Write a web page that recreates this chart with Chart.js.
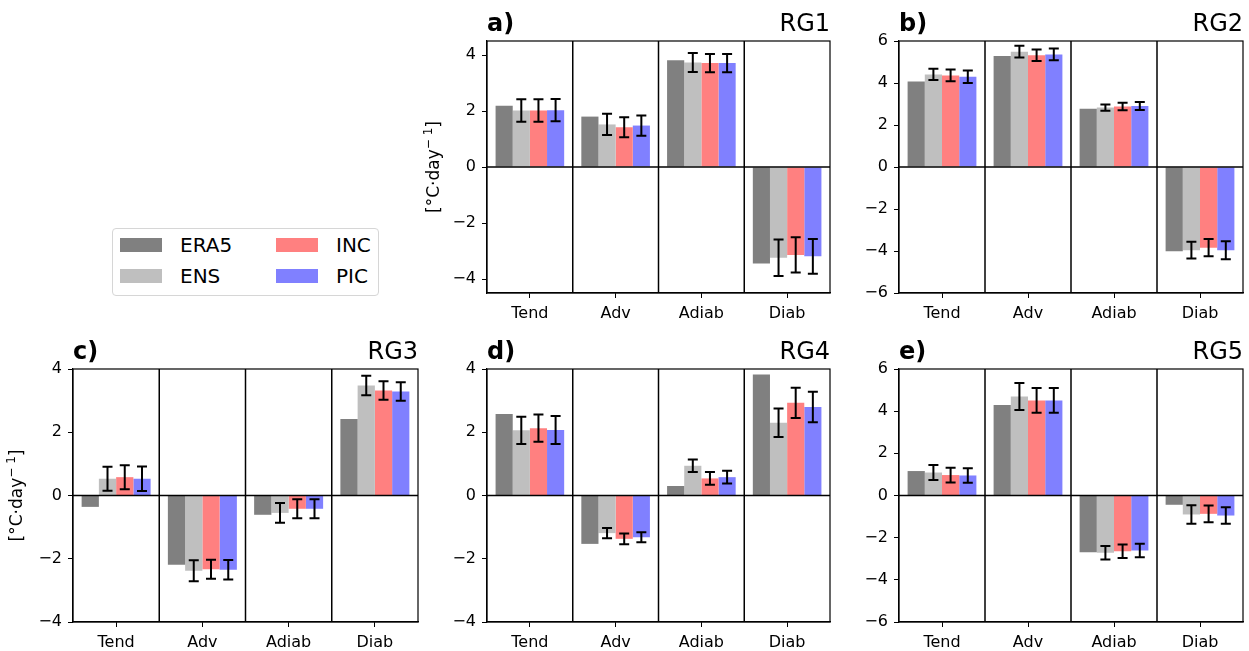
<!DOCTYPE html>
<html>
<head>
<meta charset="utf-8">
<title>Temperature budget by region</title>
<script src="https://cdn.jsdelivr.net/npm/chart.js@4.4.1/dist/chart.umd.min.js"></script>
<style>
  body {
    margin: 0;
    width: 1249px;
    height: 651px;
    background: #fff;
    position: relative;
    overflow: hidden;
    font-family: "DejaVu Sans", sans-serif;
  }
  canvas { position: absolute; }
  #legend {
    position: absolute;
    left: 112px;
    top: 228px;
    width: 267px;
    height: 68px;
    border: 1px solid #d6d6d6;
    border-radius: 4px;
    box-sizing: border-box;
  }
  .sw { position: absolute; width: 42px; height: 14px; }
  .lb { position: absolute; font-size: 20px; line-height: 20px; color: #000; }
</style>
</head>
<body>

<div id="legend"></div>

<script>
// =============================
// Data
// =============================
const categories = ["Tend", "Adv", "Adiab", "Diab"];
const seriesNames = ["ERA5", "ENS", "INC", "PIC"];
const seriesColors = ["#808080", "#bfbfbf", "#ff8080", "#8080ff"];

const ticks4 = [-4, -2, 0, 2, 4];
const ticks6 = [-6, -4, -2, 0, 2, 4, 6];

// RG1
const rg1ERA5 = [2.19, 1.80, 3.81, -3.45];
const rg1ENS = [2.02, 1.52, 3.73, -3.24];
const rg1INC = [2.02, 1.42, 3.71, -3.14];
const rg1PIC = [2.03, 1.48, 3.71, -3.19];
const rg1ENSerr = [0.40, 0.38, 0.34, 0.65];
const rg1INCerr = [0.40, 0.36, 0.33, 0.63];
const rg1PICerr = [0.40, 0.36, 0.33, 0.62];

// RG2
const rg2ERA5 = [4.07, 5.28, 2.77, -4.01];
const rg2ENS = [4.41, 5.49, 2.83, -3.96];
const rg2INC = [4.36, 5.32, 2.88, -3.84];
const rg2PIC = [4.30, 5.36, 2.90, -3.96];
const rg2ENSerr = [0.27, 0.28, 0.15, 0.40];
const rg2INCerr = [0.28, 0.27, 0.18, 0.41];
const rg2PICerr = [0.30, 0.28, 0.19, 0.43];

// RG3
const rg3ERA5 = [-0.36, -2.19, -0.61, 2.42];
const rg3ENS = [0.53, -2.38, -0.55, 3.48];
const rg3INC = [0.58, -2.33, -0.42, 3.32];
const rg3PIC = [0.53, -2.35, -0.42, 3.29];
const rg3ENSerr = [0.38, 0.33, 0.31, 0.31];
const rg3INCerr = [0.38, 0.30, 0.30, 0.29];
const rg3PICerr = [0.39, 0.31, 0.30, 0.29];

// RG4
const rg4ERA5 = [2.58, -1.53, 0.30, 3.83];
const rg4ENS = [2.06, -1.19, 0.94, 2.30];
const rg4INC = [2.13, -1.37, 0.54, 2.93];
const rg4PIC = [2.07, -1.32, 0.58, 2.80];
const rg4ENSerr = [0.43, 0.16, 0.20, 0.45];
const rg4INCerr = [0.43, 0.17, 0.20, 0.48];
const rg4PICerr = [0.44, 0.16, 0.20, 0.48];

// RG5
const rg5ERA5 = [1.16, 4.29, -2.69, -0.44];
const rg5ENS = [1.09, 4.70, -2.71, -0.90];
const rg5INC = [0.97, 4.51, -2.64, -0.87];
const rg5PIC = [0.95, 4.51, -2.61, -0.95];
const rg5ENSerr = [0.36, 0.64, 0.32, 0.44];
const rg5INCerr = [0.35, 0.59, 0.32, 0.40];
const rg5PICerr = [0.34, 0.59, 0.32, 0.39];

// -------------------------
// Panel layout (plot area in page px)
// -------------------------
const panels = [
    { tag: "a)", region: "RG1", plot: [487, 41, 830, 293], ymin: -4.5, ymax: 4.5, ticks: ticks4, yTitleX: 16,
      vals: [rg1ERA5, rg1ENS, rg1INC, rg1PIC], errs: [null, rg1ENSerr, rg1INCerr, rg1PICerr] },
    { tag: "b)", region: "RG2", plot: [899, 41, 1243, 293], ymin: -6, ymax: 6, ticks: ticks6, yTitleX: null,
      vals: [rg2ERA5, rg2ENS, rg2INC, rg2PIC], errs: [null, rg2ENSerr, rg2INCerr, rg2PICerr] },
    { tag: "c)", region: "RG3", plot: [73, 369, 418, 622], ymin: -4, ymax: 4, ticks: ticks4, yTitleX: 13,
      vals: [rg3ERA5, rg3ENS, rg3INC, rg3PIC], errs: [null, rg3ENSerr, rg3INCerr, rg3PICerr] },
    { tag: "d)", region: "RG4", plot: [487, 369, 830, 622], ymin: -4, ymax: 4, ticks: ticks4, yTitleX: null,
      vals: [rg4ERA5, rg4ENS, rg4INC, rg4PIC], errs: [null, rg4ENSerr, rg4INCerr, rg4PICerr] },
    { tag: "e)", region: "RG5", plot: [899, 369, 1243, 622], ymin: -6, ymax: 6, ticks: ticks6, yTitleX: null,
      vals: [rg5ERA5, rg5ENS, rg5INC, rg5PIC], errs: [null, rg5ENSerr, rg5INCerr, rg5PICerr] }
];

const ML = 70, MT = 41, MR = 6, MB = 34;

Chart.defaults.font.family = "DejaVu Sans";
Chart.defaults.color = "#000";

const fmt = v => (v < 0 ? "\u2212" + Math.abs(v) : String(v));

// -------------------------
// Separators, zero line, frame, error bars, titles
// -------------------------
const panelDecor = {
    id: "panelDecor",
    afterDatasetsDraw(chart, args, opts) {
        const ctx = chart.ctx;
        const area = chart.chartArea;
        const x = chart.scales.x;
        const y = chart.scales.y;

        ctx.save();
        ctx.strokeStyle = "#000";

        // category separators
        ctx.lineWidth = 1.5;
        for (let j = 1; j < categories.length; j++) {
            const xs = (x.getPixelForValue(j - 1) + x.getPixelForValue(j)) / 2;
            ctx.beginPath();
            ctx.moveTo(xs, area.top);
            ctx.lineTo(xs, area.bottom);
            ctx.stroke();
        }

        // zero line
        const y0 = y.getPixelForValue(0);
        ctx.beginPath();
        ctx.moveTo(area.left, y0);
        ctx.lineTo(area.right, y0);
        ctx.stroke();

        // error bars
        ctx.lineWidth = 2;
        chart.data.datasets.forEach((ds, i) => {
            if (!ds.errors) return;
            const meta = chart.getDatasetMeta(i);
            meta.data.forEach((bar, j) => {
                const v = ds.data[j];
                const e = ds.errors[j];
                const yt = y.getPixelForValue(v + e);
                const yb = y.getPixelForValue(v - e);
                ctx.beginPath();
                ctx.moveTo(bar.x, yt);
                ctx.lineTo(bar.x, yb);
                ctx.moveTo(bar.x - 5, yt);
                ctx.lineTo(bar.x + 5, yt);
                ctx.moveTo(bar.x - 5, yb);
                ctx.lineTo(bar.x + 5, yb);
                ctx.stroke();
            });
        });

        // frame
        ctx.lineWidth = 1.2;
        ctx.strokeRect(area.left, area.top, area.right - area.left, area.bottom - area.top);

        // panel titles
        ctx.fillStyle = "#000";
        ctx.textBaseline = "alphabetic";
        ctx.font = "bold 24px 'DejaVu Sans'";
        ctx.textAlign = "left";
        ctx.fillText(opts.tag, area.left, area.top - 10.5);
        ctx.font = "24px 'DejaVu Sans'";
        ctx.textAlign = "right";
        ctx.fillText(opts.region, area.right, area.top - 10.5);

        // y axis label with superscript
        if (opts.yTitleX !== null) {
            const parts = [
                { t: "[°C·day", f: "17px 'DejaVu Sans'", dy: 0 },
                { t: "\u2212 1", f: "12px 'DejaVu Sans'", dy: -7 },
                { t: "]", f: "17px 'DejaVu Sans'", dy: 0 }
            ];
            let total = 0;
            parts.forEach(pt => { ctx.font = pt.f; pt.w = ctx.measureText(pt.t).width; total += pt.w; });
            ctx.translate(opts.yTitleX, (area.top + area.bottom) / 2);
            ctx.rotate(-Math.PI / 2);
            ctx.textAlign = "left";
            ctx.textBaseline = "alphabetic";
            let cx = -total / 2;
            parts.forEach(pt => {
                ctx.font = pt.f;
                ctx.fillText(pt.t, cx, 6 + pt.dy);
                cx += pt.w;
            });
        }

        ctx.restore();
    }
};

function makePanel(p) {
    const w = p.plot[2] - p.plot[0] + ML + MR;
    const h = p.plot[3] - p.plot[1] + MT + MB;
    const left = p.plot[0] - ML;

    const cv = document.createElement("canvas");
    cv.width = w;
    cv.height = h;
    cv.style.left = left + "px";
    cv.style.top = (p.plot[1] - MT) + "px";
    cv.style.width = w + "px";
    cv.style.height = h + "px";
    document.body.appendChild(cv);

    new Chart(cv, {
        type: "bar",
        data: {
            labels: categories,
            datasets: seriesNames.map((name, i) => ({
                label: name,
                data: p.vals[i],
                errors: p.errs[i],
                backgroundColor: seriesColors[i],
                borderWidth: 0,
                categoryPercentage: 0.8,
                barPercentage: 1.0
            }))
        },
        options: {
            responsive: false,
            animation: false,
            layout: { padding: { top: MT, right: MR, left: 0, bottom: 0 } },
            plugins: {
                legend: { display: false },
                tooltip: { enabled: false },
                panelDecor: { tag: p.tag, region: p.region, yTitleX: p.yTitleX }
            },
            scales: {
                x: {
                    grid: { display: true, drawOnChartArea: false, drawTicks: true, tickLength: 5, color: "#000", lineWidth: 1, offset: false },
                    border: { display: true, color: "#000", width: 1.2 },
                    ticks: { color: "#000", font: { size: 16 }, padding: 6 },
                    afterFit: s => { s.height = MB; }
                },
                y: {
                    min: p.ymin,
                    max: p.ymax,
                    afterBuildTicks: s => { s.ticks = p.ticks.map(v => ({ value: v })); },
                    grid: { display: true, drawOnChartArea: false, drawTicks: true, tickLength: 5, color: "#000", lineWidth: 1 },
                    border: { display: true, color: "#000", width: 1.2 },
                    ticks: { color: "#000", font: { size: 16 }, padding: 6, callback: v => fmt(v) },
                    afterFit: s => { s.width = ML; }
                }
            }
        },
        plugins: [panelDecor]
    });
}

panels.forEach(makePanel);

// -------------------------
// Legend
// -------------------------
const legend = document.getElementById("legend");
const legendCols = [7, 163];
seriesNames.forEach((name, i) => {
    const col = Math.floor(i / 2);
    const row = i % 2;
    const sw = document.createElement("div");
    sw.className = "sw";
    sw.style.background = seriesColors[i];
    sw.style.left = legendCols[col] + "px";
    sw.style.top = (9 + row * 31) + "px";
    legend.appendChild(sw);

    const lb = document.createElement("div");
    lb.className = "lb";
    lb.textContent = name;
    lb.style.left = (legendCols[col] + 60) + "px";
    lb.style.top = (6 + row * 31) + "px";
    legend.appendChild(lb);
});
</script>
</body>
</html>
